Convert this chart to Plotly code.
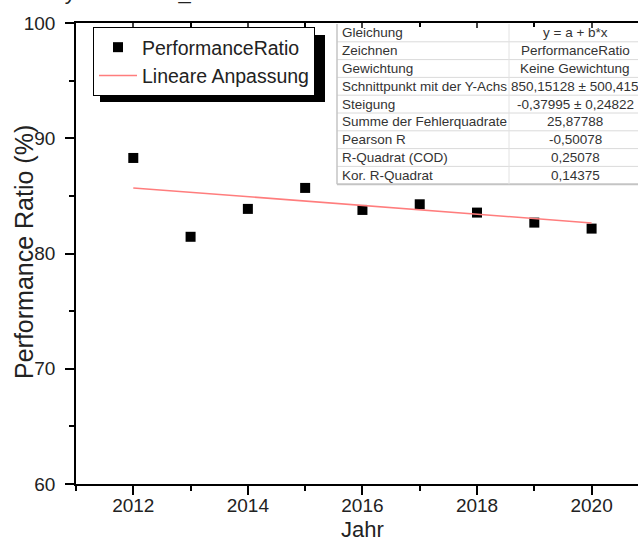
import plotly.graph_objects as go

# ---- data ----
years = [2012, 2013, 2014, 2015, 2016, 2017, 2018, 2019, 2020]
performance_ratio = [88.29, 81.45, 83.87, 85.69, 83.78, 84.27, 83.55, 82.68, 82.16]

fit_intercept = 850.15128
fit_slope = -0.37995

table_labels = ["Gleichung", "Zeichnen", "Gewichtung", "Schnittpunkt mit der Y-Achs",
                "Steigung", "Summe der Fehlerquadrate", "Pearson R",
                "R-Quadrat (COD)", "Kor. R-Quadrat"]
table_values = ["y = a + b*x", "PerformanceRatio", "Keine Gewichtung",
                "850,15128 ± 500,415", "-0,37995 ± 0,24822", "25,87788",
                "-0,50078", "0,25078", "0,14375"]

fit_x = [years[0], years[-1]]
fit_y = [fit_intercept + fit_slope * x for x in fit_x]

FONT = "Liberation Sans, Arial, sans-serif"

# ---- layout geometry (pixels) ----
W, H = 638, 541
ML, MR, MT, MB = 76, 0, 23, 57
PW, PH = W - ML - MR, H - MT - MB


def px(xp):
    return (xp - ML) / PW


def py(yp):
    return (H - MB - yp) / PH


fig = go.Figure()
fig.add_trace(go.Scatter(
    x=years, y=performance_ratio, mode="markers", name="PerformanceRatio",
    marker=dict(symbol="square", size=10, color="black"),
))
fig.add_trace(go.Scatter(
    x=fit_x, y=fit_y, mode="lines", name="Lineare Anpassung",
    line=dict(color="rgb(255,125,125)", width=1.5),
))
# invisible trace to activate the top mirrored axis
fig.add_trace(go.Scatter(x=fit_x, y=fit_y, xaxis="x2", mode="lines",
                         line=dict(width=0), showlegend=False, hoverinfo="skip"))

axis_common = dict(
    showline=True, linecolor="black", linewidth=1.5, showgrid=False, zeroline=False,
    tickfont=dict(family=FONT, size=19, color="#222"), tickcolor="black",
    automargin=False,
)

fig.update_layout(
    width=W, height=H,
    margin=dict(l=ML, r=MR, t=MT, b=MB, autoexpand=False),
    paper_bgcolor="white", plot_bgcolor="white",
    font=dict(family=FONT, color="#222"),
    xaxis=dict(range=[2011, 2020.81], tickmode="linear", tick0=2012, dtick=2,
               ticks="outside", ticklen=9, tickwidth=1.5, ticklabelstandoff=-6,
               minor=dict(dtick=1, tick0=2011, ticks="outside", ticklen=5, tickwidth=1.5, tickcolor="black"),
               **axis_common),
    xaxis2=dict(overlaying="x", side="top", matches="x", showticklabels=False,
                range=[2011, 2020.81], tickmode="linear", tick0=2012, dtick=2,
                ticks="inside", ticklen=5, tickwidth=1.5, automargin=False,
                minor=dict(dtick=1, tick0=2011, ticks="inside", ticklen=4, tickwidth=1.5, tickcolor="black"),
                showline=True, linecolor="black", linewidth=1.5, showgrid=False, zeroline=False),
    yaxis=dict(range=[60, 100], tickmode="linear", tick0=60, dtick=10,
               ticks="outside", ticklen=9, tickwidth=1.5, ticklabelstandoff=6,
               minor=dict(dtick=5, ticks="outside", ticklen=5, tickwidth=1.5, tickcolor="black"),
               **axis_common),
    legend=dict(x=px(93), y=py(27), xanchor="left", yanchor="top",
                bgcolor="white", bordercolor="black", borderwidth=1,
                font=dict(family=FONT, size=19.5, color="#222"),
                tracegroupgap=0, itemwidth=38),
    showlegend=True,
)

# axis titles as annotations for tight placement
fig.add_annotation(text="Jahr", xref="paper", yref="paper", x=px(362), y=py(515),
                   xanchor="center", yanchor="top", showarrow=False,
                   font=dict(family=FONT, size=22, color="#222"))
fig.add_annotation(text="Performance Ratio (%)", xref="paper", yref="paper",
                   x=px(24), y=py(252), xanchor="center", yanchor="middle",
                   textangle=-90, showarrow=False,
                   font=dict(family=FONT, size=25, color="#222"))

# legend drop shadow
fig.add_shape(type="rect", xref="paper", yref="paper",
              x0=px(100), x1=px(325), y0=py(102), y1=py(35),
              fillcolor="black", line=dict(width=0), layer="above")

# ---- fit result table (drawn with shapes + text) ----
T_LEFT, T_DIV, T_RIGHT, T_TOP = 337, 509, 640, 24
ROW_H = 17.8
n_rows = len(table_labels)
T_BOTTOM = T_TOP + n_rows * ROW_H

fig.add_shape(type="rect", xref="paper", yref="paper",
              x0=px(T_LEFT), x1=px(T_RIGHT), y0=py(T_BOTTOM), y1=py(T_TOP),
              fillcolor="white", line=dict(width=0), layer="below")
for i in range(1, n_rows):
    yy = py(T_TOP + i * ROW_H)
    fig.add_shape(type="line", xref="paper", yref="paper",
                  x0=px(T_LEFT), x1=px(T_RIGHT), y0=yy, y1=yy,
                  line=dict(color="#dadada", width=1), layer="below")
fig.add_shape(type="line", xref="paper", yref="paper",
              x0=px(T_LEFT), x1=px(T_RIGHT), y0=py(T_BOTTOM), y1=py(T_BOTTOM),
              line=dict(color="#c4c4c4", width=2), layer="below")
fig.add_shape(type="line", xref="paper", yref="paper",
              x0=px(T_LEFT), x1=px(T_LEFT), y0=py(T_BOTTOM), y1=py(T_TOP),
              line=dict(color="#c4c4c4", width=1.5), layer="below")
fig.add_shape(type="line", xref="paper", yref="paper",
              x0=px(T_DIV), x1=px(T_DIV), y0=py(T_BOTTOM), y1=py(T_TOP),
              line=dict(color="#e2e2e2", width=1), layer="below")

for i, (lab, val) in enumerate(zip(table_labels, table_values)):
    yc = py(T_TOP + (i + 0.5) * ROW_H)
    fig.add_annotation(text=lab, xref="paper", yref="paper", x=px(T_LEFT + 3), y=yc,
                       xanchor="left", yanchor="middle", showarrow=False,
                       font=dict(family=FONT, size=13.5, color="#333"))
    fig.add_annotation(text=val, xref="paper", yref="paper", x=px(575), y=yc,
                       xanchor="center", yanchor="middle", showarrow=False,
                       font=dict(family=FONT, size=13.5, color="#333"))

# cut-off title at the very top (only its descenders are visible)
fig.add_annotation(text="Systemdaten_PR", xref="paper", yref="paper",
                   x=px(48), y=py(6), xanchor="left", yanchor="bottom",
                   showarrow=False, font=dict(family=FONT, size=22, color="#222"))

# remove the default page margin so the figure fills the window exactly
fig.write_html("out.html", config={"displayModeBar": False},
               post_script="document.body.style.margin='0px';")
